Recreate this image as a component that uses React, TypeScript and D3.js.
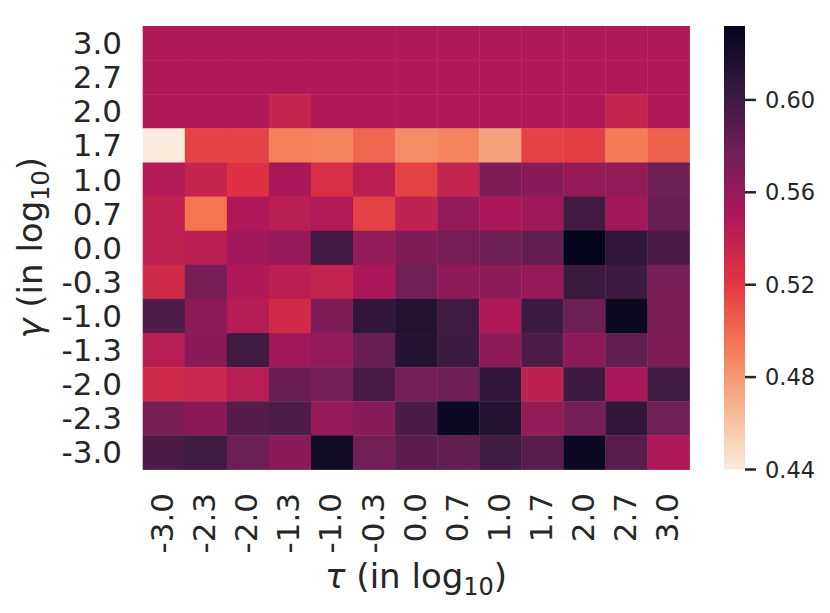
import React from "react";
import * as d3 from "d3";

const tauLabels = ["-3.0", "-2.3", "-2.0", "-1.3", "-1.0", "-0.3", "0.0", "0.7", "1.0", "1.7", "2.0", "2.7", "3.0"];
const gammaLabels = ["3.0", "2.7", "2.0", "1.7", "1.0", "0.7", "0.0", "-0.3", "-1.0", "-1.3", "-2.0", "-2.3", "-3.0"];

const rowG30 = [0.548, 0.548, 0.548, 0.548, 0.548, 0.548, 0.548, 0.548, 0.548, 0.548, 0.548, 0.548, 0.548];
const rowG27 = [0.548, 0.548, 0.548, 0.548, 0.548, 0.548, 0.548, 0.548, 0.548, 0.548, 0.548, 0.548, 0.548];
const rowG20 = [0.548, 0.548, 0.548, 0.537, 0.548, 0.548, 0.548, 0.548, 0.548, 0.548, 0.548, 0.537, 0.548];
const rowG17 = [0.440, 0.516, 0.516, 0.490, 0.489, 0.501, 0.485, 0.489, 0.476, 0.516, 0.518, 0.492, 0.503];
const rowG10 = [0.546, 0.537, 0.524, 0.551, 0.527, 0.543, 0.516, 0.538, 0.570, 0.566, 0.560, 0.561, 0.578];
const rowG07 = [0.540, 0.495, 0.549, 0.544, 0.547, 0.516, 0.540, 0.561, 0.551, 0.556, 0.598, 0.555, 0.581];
const rowG00 = [0.540, 0.542, 0.555, 0.560, 0.598, 0.562, 0.570, 0.574, 0.578, 0.584, 0.632, 0.607, 0.594];
const rowGm03 = [0.531, 0.573, 0.548, 0.543, 0.538, 0.550, 0.576, 0.563, 0.563, 0.560, 0.602, 0.601, 0.573];
const rowGm10 = [0.592, 0.563, 0.545, 0.531, 0.571, 0.607, 0.614, 0.600, 0.548, 0.601, 0.578, 0.627, 0.572];
const rowGm13 = [0.544, 0.565, 0.600, 0.555, 0.561, 0.582, 0.613, 0.601, 0.563, 0.593, 0.564, 0.584, 0.571];
const rowGm20 = [0.531, 0.534, 0.544, 0.581, 0.575, 0.596, 0.575, 0.578, 0.607, 0.541, 0.601, 0.552, 0.600];
const rowGm23 = [0.573, 0.565, 0.589, 0.593, 0.560, 0.567, 0.594, 0.626, 0.613, 0.562, 0.575, 0.607, 0.577];
const rowGm30 = [0.594, 0.600, 0.579, 0.565, 0.624, 0.576, 0.587, 0.584, 0.600, 0.588, 0.626, 0.588, 0.549];

const values = [rowG30, rowG27, rowG20, rowG17, rowG10, rowG07, rowG00, rowGm03, rowGm10, rowGm13, rowGm20, rowGm23, rowGm30];

const cbarTicks = [0.44, 0.48, 0.52, 0.56, 0.60];
const vmin = 0.44;
const vmax = 0.632;

// rocket colormap stops (dark -> light)
const rocketColors = ["#03051a", "#35193e", "#701f57", "#ad1759", "#e13342", "#f37651", "#f6b48f", "#faebdd"];
const rocket = d3
  .scaleLinear<string>()
  .domain(rocketColors.map((_, i) => i / (rocketColors.length - 1)))
  .range(rocketColors)
  .interpolate(d3.interpolateRgb)
  .clamp(true);
const color = (v: number) => rocket(1 - (v - vmin) / (vmax - vmin));

const W = 830;
const H = 613;
const left = 142.7;
const right = 689.5;
const top = 26;
const bottom = 469.5;
const cbX = 724;
const cbW = 21;
const textColor = "#262626";
const font = "DejaVu Sans, sans-serif";
const tickSize = 31;

export default function App() {
  const x = d3.scaleBand<string>().domain(tauLabels).range([left, right]);
  const y = d3.scaleBand<string>().domain(gammaLabels).range([top, bottom]);
  const cy = d3.scaleLinear().domain([vmin, vmax]).range([bottom, top]);
  const gradStops = d3.range(0, 101).map((i) => i / 100);

  return (
    <svg width={W} height={H} style={{ position: "absolute", left: 0, top: 0, background: "#fff" }} fontFamily={font}>
      <defs>
        <linearGradient id="cbar" x1="0" y1="1" x2="0" y2="0">
          {gradStops.map((t) => (
            <stop key={t} offset={t} stopColor={color(vmin + t * (vmax - vmin))} />
          ))}
        </linearGradient>
      </defs>
      {values.map((row, ri) =>
        row.map((v, ci) => (
          <rect
            key={`${ri}-${ci}`}
            x={x(tauLabels[ci])!}
            y={y(gammaLabels[ri])!}
            width={x.bandwidth() + 0.4}
            height={y.bandwidth() + 0.4}
            fill={color(v)}
          />
        ))
      )}
      {gammaLabels.map((g) => (
        <text
          key={g}
          x={122}
          y={y(g)! + y.bandwidth() / 2}
          textAnchor="end"
          dominantBaseline="central"
          fontSize={tickSize}
          fill={textColor}
        >
          {g}
        </text>
      ))}
      {tauLabels.map((t) => (
        <text
          key={t}
          transform={`translate(${x(t)! + x.bandwidth() / 2 - 1.5},${493}) rotate(-90)`}
          textAnchor="end"
          dominantBaseline="central"
          fontSize={tickSize}
          fill={textColor}
        >
          {t}
        </text>
      ))}
      <text x={(left + right) / 2} y={588} textAnchor="middle" fontSize={34} fill={textColor}>
        <tspan fontStyle="italic">τ</tspan>
        <tspan> (in log</tspan>
        <tspan fontSize={24} dy={7}>10</tspan>
        <tspan dy={-7}>)</tspan>
      </text>
      <text
        transform={`translate(${42},${(top + bottom) / 2}) rotate(-90)`}
        textAnchor="middle"
        fontSize={34}
        fill={textColor}
      >
        <tspan fontStyle="italic">γ</tspan>
        <tspan> (in log</tspan>
        <tspan fontSize={24} dy={7}>10</tspan>
        <tspan dy={-7}>)</tspan>
      </text>
      <rect x={cbX} y={top} width={cbW} height={bottom - top} fill="url(#cbar)" />
      {cbarTicks.map((t) => (
        <g key={t}>
          <line x1={cbX + cbW} x2={cbX + cbW + 11} y1={cy(t)} y2={cy(t)} stroke={textColor} strokeWidth={2.5} />
          <text x={cbX + cbW + 20} y={cy(t)} dominantBaseline="central" fontSize={22.5} fill={textColor}>
            {t.toFixed(2)}
          </text>
        </g>
      ))}
    </svg>
  );
}
